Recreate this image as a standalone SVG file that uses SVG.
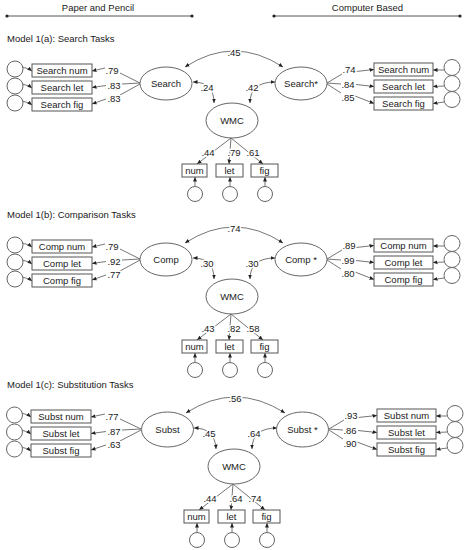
<svg xmlns="http://www.w3.org/2000/svg" width="468" height="550" viewBox="0 0 468 550">
<style>
.t{font-family:"Liberation Sans",Arial,sans-serif;font-size:9.5px;fill:#1a1a1a;text-anchor:middle}
.h{paint-order:stroke;stroke:#fff;stroke-width:3px;stroke-linejoin:round}
.l{text-anchor:start}
.bx{fill:#fff;stroke:#555;stroke-width:1}
.el{fill:#fff;stroke:#666;stroke-width:1}
.ln{fill:none;stroke:#666;stroke-width:0.9}
.a{marker-end:url(#ah)}
.b{marker-start:url(#ah);marker-end:url(#ah)}
</style>
<defs>
<marker id="ah" viewBox="0 0 6 6" refX="6" refY="3" markerWidth="4.5" markerHeight="4.5" markerUnits="userSpaceOnUse" orient="auto-start-reverse"><path d="M0,0.4 L6,3 L0,5.6 z" fill="#222"/></marker>
</defs>
<rect width="468" height="550" fill="#fff"/>
<g id="header">
<text class="t" x="98" y="10.5">Paper and Pencil</text>
<text class="t" x="367.5" y="10.5">Computer Based</text>
<line x1="7" y1="16" x2="192" y2="16" stroke="#444" stroke-width="0.9"/>
<line x1="274" y1="16" x2="460" y2="16" stroke="#444" stroke-width="0.9"/>
<circle cx="7" cy="16" r="1.6" fill="#222"/><circle cx="192" cy="16" r="1.6" fill="#222"/>
<circle cx="274" cy="16" r="1.6" fill="#222"/><circle cx="460" cy="16" r="1.6" fill="#222"/>
</g>

<!-- Panel A -->
<g id="panel-a">
<text id="title-a" class="t l" x="7" y="41.5">Model 1(a): Search Tasks</text>
<g id="connectors-a">
<path class="ln b" d="M185,67 Q234,35 283,67"/>
<path class="ln b" d="M193,82 Q214,82 214,103"/>
<path class="ln b" d="M275,82 Q250,82 250,103"/>
<path class="ln a" d="M140,83 L120,73 M105,68 L92,71"/>
<path class="ln a" d="M140,83 L122,84 M106,85.5 L92,87.5"/>
<path class="ln a" d="M140,84 L120,95 M106,99 L92,104"/>
<path class="ln a" d="M327,83 L342,74 M356,71.5 L374,69.5"/>
<path class="ln a" d="M327,83 L341,84 M356,84.5 L374,86.5"/>
<path class="ln a" d="M327,84 L341,93 M355,96 L374,103.5"/>
<path class="ln a" d="M231,138 L197,164"/>
<path class="ln a" d="M231,138 L229,164"/>
<path class="ln a" d="M231,138 L263,164"/>
<path class="ln a" d="M22,67 Q28,68 32,71"/>
<path class="ln a" d="M22,84 Q28,85 32,88"/>
<path class="ln a" d="M22,101 Q28,102 32,105"/>
<path class="ln a" d="M444.5,70 L433,70"/>
<path class="ln a" d="M444.5,86 L433,86.5"/>
<path class="ln a" d="M444.5,102 L433,103.5"/>
<path class="ln a" d="M195,186.5 L195,177"/>
<path class="ln a" d="M230,186.5 L230,177"/>
<path class="ln a" d="M265,186.5 L265,177"/>
<text class="t h" x="234" y="56">.45</text>
<text class="t h" x="207" y="90.5">.24</text>
<text class="t h" x="252" y="90.5">.42</text>
<text class="t h" x="112" y="73.5">.79</text>
<text class="t h" x="114" y="88.5">.83</text>
<text class="t h" x="114" y="101.5">.83</text>
<text class="t h" x="349" y="72.5">.74</text>
<text class="t h" x="348" y="87.5">.84</text>
<text class="t h" x="348" y="100.5">.85</text>
<text class="t h" x="208" y="155.5">.44</text>
<text class="t h" x="234" y="155.5">.79</text>
<text class="t h" x="253" y="155.5">.61</text>
</g>
<g id="lat1-a"><ellipse class="el" cx="166" cy="83.5" rx="26" ry="16.5"/><text class="t" x="166" y="87">Search</text></g>
<g id="lat2-a"><ellipse class="el" cx="301" cy="83.5" rx="26" ry="16.5"/><text class="t" x="301" y="87">Search*</text></g>
<g id="wmc-a"><ellipse class="el" cx="232" cy="120.5" rx="26" ry="17.5"/><text class="t" x="232" y="124">WMC</text></g>
<g id="pl1-a"><rect class="bx" x="32" y="64" width="60" height="13"/><text class="t" x="62" y="74">Search num</text></g>
<g id="pl2-a"><rect class="bx" x="32" y="81" width="60" height="13"/><text class="t" x="62" y="91">Search let</text></g>
<g id="pl3-a"><rect class="bx" x="32" y="98" width="60" height="13"/><text class="t" x="62" y="108">Search fig</text></g>
<g id="cb1-a"><rect class="bx" x="374" y="63" width="59" height="13"/><text class="t" x="403.5" y="73">Search num</text></g>
<g id="cb2-a"><rect class="bx" x="374" y="80" width="59" height="13"/><text class="t" x="403.5" y="90">Search let</text></g>
<g id="cb3-a"><rect class="bx" x="374" y="97" width="59" height="13"/><text class="t" x="403.5" y="107">Search fig</text></g>
<g id="wm1-a"><rect class="bx" x="182" y="164" width="25" height="13"/><text class="t" x="194.5" y="174">num</text></g>
<g id="wm2-a"><rect class="bx" x="216" y="164" width="27" height="13"/><text class="t" x="229.5" y="174">let</text></g>
<g id="wm3-a"><rect class="bx" x="251" y="164" width="27" height="13"/><text class="t" x="264.5" y="174">fig</text></g>
<g id="e1-a"><circle class="el" cx="15" cy="69" r="8"/></g>
<g id="e2-a"><circle class="el" cx="15" cy="86" r="8"/></g>
<g id="e3-a"><circle class="el" cx="15" cy="103" r="8"/></g>
<g id="e4-a"><circle class="el" cx="452" cy="67.5" r="8"/></g>
<g id="e5-a"><circle class="el" cx="452" cy="83.5" r="8"/></g>
<g id="e6-a"><circle class="el" cx="452" cy="99.5" r="8"/></g>
<g id="e7-a"><circle class="el" cx="195" cy="194" r="7.5"/></g>
<g id="e8-a"><circle class="el" cx="230" cy="194" r="7.5"/></g>
<g id="e9-a"><circle class="el" cx="265" cy="194" r="7.5"/></g>
</g>

<!-- Panel B -->
<g id="panel-b" transform="translate(0,176)">
<text id="title-b" class="t l" x="7" y="41.5">Model 1(b): Comparison Tasks</text>
<g id="connectors-b">
<path class="ln b" d="M185,67 Q234,35 283,67"/>
<path class="ln b" d="M193,82 Q214,82 214,103"/>
<path class="ln b" d="M275,82 Q250,82 250,103"/>
<path class="ln a" d="M140,83 L120,73 M105,68 L92,71"/>
<path class="ln a" d="M140,83 L122,84 M106,85.5 L92,87.5"/>
<path class="ln a" d="M140,84 L120,95 M106,99 L92,104"/>
<path class="ln a" d="M327,83 L342,74 M356,71.5 L374,69.5"/>
<path class="ln a" d="M327,83 L341,84 M356,84.5 L374,86.5"/>
<path class="ln a" d="M327,84 L341,93 M355,96 L374,103.5"/>
<path class="ln a" d="M231,138 L197,164"/>
<path class="ln a" d="M231,138 L229,164"/>
<path class="ln a" d="M231,138 L263,164"/>
<path class="ln a" d="M22,67 Q28,68 32,71"/>
<path class="ln a" d="M22,84 Q28,85 32,88"/>
<path class="ln a" d="M22,101 Q28,102 32,105"/>
<path class="ln a" d="M444.5,70 L433,70"/>
<path class="ln a" d="M444.5,86 L433,86.5"/>
<path class="ln a" d="M444.5,102 L433,103.5"/>
<path class="ln a" d="M195,186.5 L195,177"/>
<path class="ln a" d="M230,186.5 L230,177"/>
<path class="ln a" d="M265,186.5 L265,177"/>
<text class="t h" x="234" y="56">.74</text>
<text class="t h" x="207" y="90.5">.30</text>
<text class="t h" x="252" y="90.5">.30</text>
<text class="t h" x="112" y="73.5">.79</text>
<text class="t h" x="114" y="88.5">.92</text>
<text class="t h" x="114" y="101.5">.77</text>
<text class="t h" x="349" y="72.5">.89</text>
<text class="t h" x="348" y="87.5">.99</text>
<text class="t h" x="348" y="100.5">.80</text>
<text class="t h" x="208" y="155.5">.43</text>
<text class="t h" x="234" y="155.5">.82</text>
<text class="t h" x="253" y="155.5">.58</text>
</g>
<g id="lat1-b"><ellipse class="el" cx="166" cy="83.5" rx="26" ry="16.5"/><text class="t" x="166" y="87">Comp</text></g>
<g id="lat2-b"><ellipse class="el" cx="301" cy="83.5" rx="26" ry="16.5"/><text class="t" x="301" y="87">Comp *</text></g>
<g id="wmc-b"><ellipse class="el" cx="232" cy="120.5" rx="26" ry="17.5"/><text class="t" x="232" y="124">WMC</text></g>
<g id="pl1-b"><rect class="bx" x="32" y="64" width="60" height="13"/><text class="t" x="62" y="74">Comp num</text></g>
<g id="pl2-b"><rect class="bx" x="32" y="81" width="60" height="13"/><text class="t" x="62" y="91">Comp let</text></g>
<g id="pl3-b"><rect class="bx" x="32" y="98" width="60" height="13"/><text class="t" x="62" y="108">Comp fig</text></g>
<g id="cb1-b"><rect class="bx" x="374" y="63" width="59" height="13"/><text class="t" x="403.5" y="73">Comp num</text></g>
<g id="cb2-b"><rect class="bx" x="374" y="80" width="59" height="13"/><text class="t" x="403.5" y="90">Comp let</text></g>
<g id="cb3-b"><rect class="bx" x="374" y="97" width="59" height="13"/><text class="t" x="403.5" y="107">Comp fig</text></g>
<g id="wm1-b"><rect class="bx" x="182" y="164" width="25" height="13"/><text class="t" x="194.5" y="174">num</text></g>
<g id="wm2-b"><rect class="bx" x="216" y="164" width="27" height="13"/><text class="t" x="229.5" y="174">let</text></g>
<g id="wm3-b"><rect class="bx" x="251" y="164" width="27" height="13"/><text class="t" x="264.5" y="174">fig</text></g>
<g id="e1-b"><circle class="el" cx="15" cy="69" r="8"/></g>
<g id="e2-b"><circle class="el" cx="15" cy="86" r="8"/></g>
<g id="e3-b"><circle class="el" cx="15" cy="103" r="8"/></g>
<g id="e4-b"><circle class="el" cx="452" cy="67.5" r="8"/></g>
<g id="e5-b"><circle class="el" cx="452" cy="83.5" r="8"/></g>
<g id="e6-b"><circle class="el" cx="452" cy="99.5" r="8"/></g>
<g id="e7-b"><circle class="el" cx="195" cy="194" r="7.5"/></g>
<g id="e8-b"><circle class="el" cx="230" cy="194" r="7.5"/></g>
<g id="e9-b"><circle class="el" cx="265" cy="194" r="7.5"/></g>
</g>

<!-- Panel C -->
<g id="panel-c" transform="translate(0,346)">
<text id="title-c" class="t l" x="7" y="42">Model 1(c): Substitution Tasks</text>
<g id="connectors-c">
<path class="ln b" d="M186,67 Q235,35 285,67"/>
<path class="ln b" d="M194,82 Q215,82 216,103"/>
<path class="ln b" d="M277,82 Q252,82 252,103"/>
<path class="ln a" d="M141,83 L120,73 M105,68 L91,71"/>
<path class="ln a" d="M141,83 L122,84 M106,85.5 L91,87.5"/>
<path class="ln a" d="M141,84 L120,95 M106,99 L91,104"/>
<path class="ln a" d="M329,83 L344,74 M358,71.5 L377,69.5"/>
<path class="ln a" d="M329,83 L343,84 M358,84.5 L377,86.5"/>
<path class="ln a" d="M329,84 L343,93 M357,96 L377,103.5"/>
<path class="ln a" d="M233,138 L199,164"/>
<path class="ln a" d="M233,138 L231,164"/>
<path class="ln a" d="M233,138 L265,164"/>
<path class="ln a" d="M21,67 Q27,68 31,71"/>
<path class="ln a" d="M21,84 Q27,85 31,88"/>
<path class="ln a" d="M21,101 Q27,102 31,105"/>
<path class="ln a" d="M447.5,70 L436,70"/>
<path class="ln a" d="M447.5,86 L436,86.5"/>
<path class="ln a" d="M447.5,102 L436,103.5"/>
<path class="ln a" d="M197,186.5 L197,177"/>
<path class="ln a" d="M232,186.5 L232,177"/>
<path class="ln a" d="M267,186.5 L267,177"/>
<text class="t h" x="235" y="56">.56</text>
<text class="t h" x="209" y="90.5">.45</text>
<text class="t h" x="254" y="90.5">.64</text>
<text class="t h" x="112" y="73.5">.77</text>
<text class="t h" x="114" y="88.5">.87</text>
<text class="t h" x="114" y="101.5">.63</text>
<text class="t h" x="351" y="72.5">.93</text>
<text class="t h" x="350" y="87.5">.86</text>
<text class="t h" x="350" y="100.5">.90</text>
<text class="t h" x="210" y="155.5">.44</text>
<text class="t h" x="236" y="155.5">.64</text>
<text class="t h" x="255" y="155.5">.74</text>
</g>
<g id="lat1-c"><ellipse class="el" cx="167.5" cy="83.5" rx="26" ry="17.5"/><text class="t" x="167.5" y="87">Subst</text></g>
<g id="lat2-c"><ellipse class="el" cx="302.5" cy="83.5" rx="26" ry="17.5"/><text class="t" x="302.5" y="87">Subst *</text></g>
<g id="wmc-c"><ellipse class="el" cx="234" cy="120.5" rx="26" ry="17.5"/><text class="t" x="234" y="124">WMC</text></g>
<g id="pl1-c"><rect class="bx" x="31" y="64" width="60" height="13"/><text class="t" x="61" y="74">Subst num</text></g>
<g id="pl2-c"><rect class="bx" x="31" y="81" width="60" height="13"/><text class="t" x="61" y="91">Subst let</text></g>
<g id="pl3-c"><rect class="bx" x="31" y="98" width="60" height="13"/><text class="t" x="61" y="108">Subst fig</text></g>
<g id="cb1-c"><rect class="bx" x="377" y="63" width="59" height="13"/><text class="t" x="406.5" y="73">Subst num</text></g>
<g id="cb2-c"><rect class="bx" x="377" y="80" width="59" height="13"/><text class="t" x="406.5" y="90">Subst let</text></g>
<g id="cb3-c"><rect class="bx" x="377" y="97" width="59" height="13"/><text class="t" x="406.5" y="107">Subst fig</text></g>
<g id="wm1-c"><rect class="bx" x="184" y="164" width="25" height="13"/><text class="t" x="196.5" y="174">num</text></g>
<g id="wm2-c"><rect class="bx" x="218" y="164" width="27" height="13"/><text class="t" x="231.5" y="174">let</text></g>
<g id="wm3-c"><rect class="bx" x="253" y="164" width="27" height="13"/><text class="t" x="266.5" y="174">fig</text></g>
<g id="e1-c"><circle class="el" cx="14.5" cy="69" r="8"/></g>
<g id="e2-c"><circle class="el" cx="14.5" cy="86" r="8"/></g>
<g id="e3-c"><circle class="el" cx="14.5" cy="103" r="8"/></g>
<g id="e4-c"><circle class="el" cx="455" cy="67.5" r="8"/></g>
<g id="e5-c"><circle class="el" cx="455" cy="83.5" r="8"/></g>
<g id="e6-c"><circle class="el" cx="455" cy="99.5" r="8"/></g>
<g id="e7-c"><circle class="el" cx="197" cy="194" r="7.5"/></g>
<g id="e8-c"><circle class="el" cx="232" cy="194" r="7.5"/></g>
<g id="e9-c"><circle class="el" cx="267" cy="194" r="7.5"/></g>
</g>
</svg>
